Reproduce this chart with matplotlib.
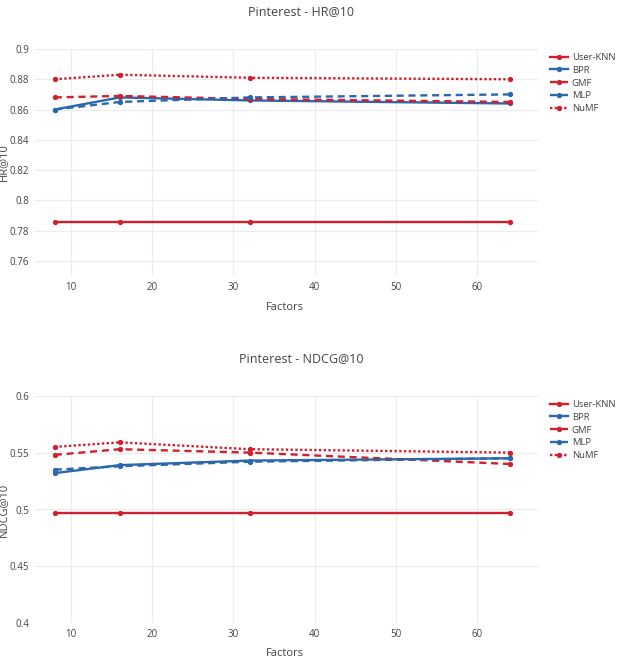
import matplotlib
matplotlib.use('Agg')
import matplotlib.pyplot as plt

factors = [8, 16, 32, 64]
methods = ['User-KNN', 'BPR', 'GMF', 'MLP', 'NuMF']

hr = {
    'User-KNN': [0.786, 0.786, 0.786, 0.786],
    'BPR': [0.860, 0.868, 0.866, 0.864],
    'GMF': [0.868, 0.869, 0.867, 0.865],
    'MLP': [0.860, 0.865, 0.868, 0.870],
    'NuMF': [0.880, 0.883, 0.881, 0.880],
}
ndcg = {
    'User-KNN': [0.497, 0.497, 0.497, 0.497],
    'BPR': [0.532, 0.539, 0.543, 0.545],
    'GMF': [0.548, 0.553, 0.550, 0.540],
    'MLP': [0.535, 0.538, 0.542, 0.545],
    'NuMF': [0.555, 0.559, 0.553, 0.550],
}
hr_ticks = [0.76, 0.78, 0.8, 0.82, 0.84, 0.86, 0.88, 0.9]
ndcg_ticks = [0.4, 0.45, 0.5, 0.55, 0.6]
x_ticks = [10, 20, 30, 40, 50, 60]

RED = '#d11f2d'
BLUE = '#2a67ac'
styles = {
    'User-KNN': (RED, '-'),
    'BPR': (BLUE, '-'),
    'GMF': (RED, (0, (3, 2))),
    'MLP': (BLUE, (0, (3, 2))),
    'NuMF': (RED, (0, (1, 1))),
}

plt.rcParams['font.family'] = ['Open Sans', 'DejaVu Sans']
TXT = '#444444'
W, H = 624, 665
fig = plt.figure(figsize=(W / 100, H / 100), dpi=100)


def draw(top, bottom, data, ticks, ylim, title, ylabel, title_y, xlabel_y, legend_y):
    left, right = 34.5, 538
    ax = fig.add_axes([left / W, 1 - bottom / H, (right - left) / W, (bottom - top) / H])
    for m in methods:
        c, ls = styles[m]
        ax.plot(factors, data[m], color=c, linestyle=ls, linewidth=1.7,
                marker='o', markersize=2.8, label=m)
    ax.set_xlim(5.5, 67.5)
    ax.set_ylim(*ylim)
    ax.set_xticks(x_ticks)
    ax.set_yticks(ticks)
    ax.set_yticklabels([f'{t:g}' for t in ticks])
    ax.grid(True, color='#ececec', linewidth=0.8)
    ax.set_axisbelow(True)
    for s in ax.spines.values():
        s.set_visible(False)
    ax.tick_params(length=0, labelsize=7, colors=TXT, pad=4)
    fig.text(301 / W, 1 - title_y / H, title, ha='center', va='center', fontsize=9, color=TXT)
    fig.text(285 / W, 1 - xlabel_y / H, 'Factors', ha='center', va='center', fontsize=8, color=TXT)
    fig.text(4 / W, 1 - (top + bottom) / 2 / H, ylabel, ha='center', va='center',
             rotation=90, fontsize=8, color=TXT)
    leg = ax.legend(loc='upper left', bbox_to_anchor=(550 / W, 1 - legend_y / H),
                    bbox_transform=fig.transFigure, frameon=False, fontsize=6.8,
                    handlelength=1.9, handletextpad=0.4, labelspacing=0.4,
                    borderaxespad=0, borderpad=0)
    for t in leg.get_texts():
        t.set_color(TXT)


draw(49, 276, hr, hr_ticks, (0.75, 0.9), 'Pinterest - HR@10', 'HR@10', 12, 307, 53)
draw(395.7, 623.3, ndcg, ndcg_ticks, (0.4, 0.6), 'Pinterest - NDCG@10', 'NDCG@10', 359, 654, 400)

fig.savefig('out.png', dpi=100)
